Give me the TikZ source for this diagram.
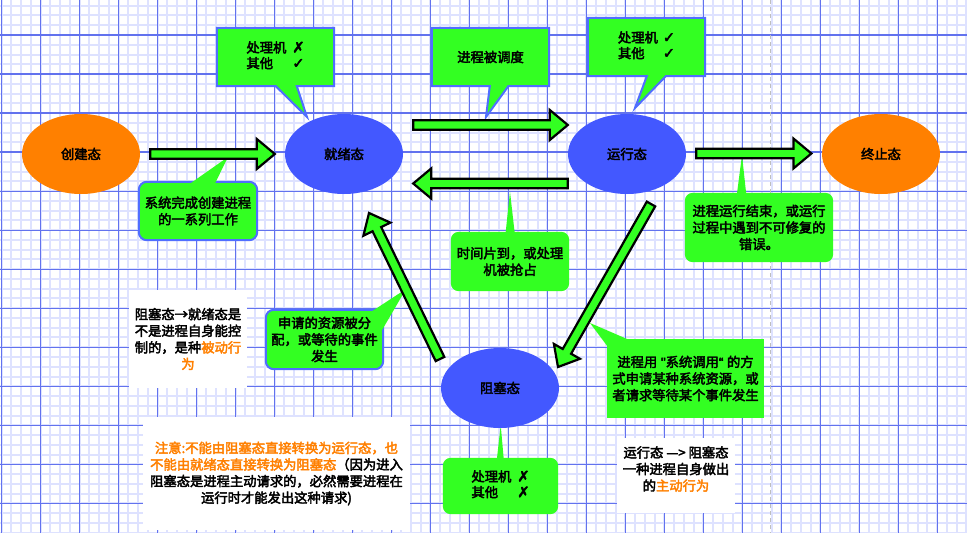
\documentclass[tikz,border=0pt]{standalone}
\usepackage{fontspec}
\setmainfont{Noto Sans CJK SC}[FakeBold=3]
\newfontfamily\symfont{DejaVu Sans}[FakeBold=3]
\newfontfamily\latinfont{Liberation Sans}[FakeBold=3]
\usetikzlibrary{calc,shapes.geometric}
\pgfdeclarelayer{gridlayer}
\pgfdeclarelayer{shapelayer}
\pgfsetlayers{gridlayer,shapelayer,main}
\definecolor{cgreen}{RGB}{51,255,34}
\definecolor{cblue}{RGB}{67,88,255}
\definecolor{corange}{RGB}{255,128,0}
\definecolor{cborder}{RGB}{80,110,255}
\definecolor{gmajor}{RGB}{98,114,238}
\definecolor{gminor}{RGB}{222,226,255}
\definecolor{dashgrey}{RGB}{190,190,190}
\newcommand\mycheck{{\symfont\fontsize{14.5}{16}\selectfont ✓}}
\newcommand\mycross{{\symfont\fontsize{14.5}{16}\selectfont ✗}}
\newcommand\myblockarrow[2]{%
  \coordinate (bab) at ($(#2)!18pt!(#1)$);
  \draw[barrow] ($(#1)!4.8pt!90:(#2)$) -- ($(bab)!4.8pt!90:(#2)$) -- ($(bab)!15pt!90:(#2)$) -- (#2)
     -- ($(bab)!15pt!-90:(#2)$) -- ($(bab)!4.8pt!-90:(#2)$) -- ($(#1)!4.8pt!-90:(#2)$) -- cycle;}
\begin{document}
\begin{tikzpicture}[x=1pt,y=-1pt,
  minorline/.style={draw=gminor,line width=2pt},
  majorline/.style={draw=gmajor,line width=1.2pt},
  dashline/.style={draw=dashgrey,line width=1.5pt,dash pattern=on 4pt off 3pt},
  state/.style={ellipse,minimum width=118pt,minimum height=80pt,inner sep=0pt,
     font=\fontsize{13.3}{16.6}\selectfont},
  txt/.style={align=center,inner sep=0pt,font=\fontsize{13.3}{16.6}\selectfont},
  cshape/.style={fill=cgreen},
  cbshape/.style={fill=cgreen,draw=cborder,line width=2pt},
  barrow/.style={fill=cgreen,draw=black,line width=2.2pt,line join=miter},
  wbox/.style={fill=white,inner sep=0pt}]
\useasboundingbox (0,0) rectangle (967,533);
% ---------- grid ----------
\begin{pgfonlayer}{gridlayer}
\fill[white] (0,0) rectangle (967,533);
\begin{scope}
\clip (0,0) rectangle (967,533);
\foreach \i in {0,...,99} \draw[minorline] ({1.7+9.745*\i},0) -- ({1.7+9.745*\i},533);
\foreach \j in {0,...,55} \draw[minorline] (0,{-4.03+9.7575*\j}) -- (967,{-4.03+9.7575*\j});
\foreach \i in {0,...,24} \draw[majorline] ({1.7+38.98*\i},0) -- ({1.7+38.98*\i},533);
\foreach \j in {1,...,13} \draw[majorline] (0,{-4.03+39.03*\j}) -- (967,{-4.03+39.03*\j});
\end{scope}
\coordinate (dtop) at (770.7,0);
\coordinate (dbot) at (770.7,533);
\draw[dashline] (dtop) -- (dbot);
\end{pgfonlayer}
% ---------- states ----------
\node[state,fill=corange] (create) at (81,154) {创建态};
\node[state,fill=cblue] (ready) at (344,154) {就绪态};
\node[state,fill=cblue] (run) at (627,154) {运行态};
\node[state,fill=corange] (term) at (881,154) {终止态};
\node[state,fill=cblue] (block) at (500,388) {阻塞态};
% ---------- callouts ----------
\node[txt,minimum width=117pt,minimum height=58pt] (cA) at (275.5,57)
  {\def\arraystretch{0.92}\begin{tabular}{@{}l@{\hspace{6pt}}l@{}}处理机&\mycross\\其他&\mycheck\end{tabular}};
\node[txt,minimum width=117pt,minimum height=58pt] (cC) at (490.5,57) {进程被调度};
\node[txt,minimum width=117pt,minimum height=58pt] (cD) at (646.5,47)
  {\def\arraystretch{0.92}\begin{tabular}{@{}l@{\hspace{5pt}}l@{}}处理机&\mycheck\\其他&\mycheck\end{tabular}};
\node[txt,minimum width=118pt,minimum height=58pt] (cB) at (198,211) {系统完成创建进程\\的一系列工作};
\node[txt,minimum width=118pt,minimum height=59pt] (cE) at (510,261.5) {时间片到，或处理\\机被抢占};
\node[txt,minimum width=148pt,minimum height=69pt] (cF) at (759,227.5) {进程运行结束，或运行\\过程中遇到不可修复的\\错误。};
\node[txt,minimum width=117pt,minimum height=59pt] (cG) at (324.5,339.5) {申请的资源被分\\配，或等待的事件\\发生};
\node[txt,minimum width=157pt,minimum height=79pt] (cH) at (685.5,378.5) {进程用{\latinfont\ "}系统调用{\latinfont “\ }的方\\式申请某种系统资源，或\\者请求等待某个事件发生};
\node[txt,minimum width=115pt,minimum height=56pt] (cI) at (500.5,486)
  {\def\arraystretch{0.92}\begin{tabular}{@{}l@{\hspace{6pt}}l@{}}处理机&\mycross\\其他&\mycross\end{tabular}};
\coordinate (tA) at (307,117);
\coordinate (tC) at (486,117);
\coordinate (tD) at (635,108);
\coordinate (tB) at (228,157);
\coordinate (tE) at (510,191.7);
\coordinate (tF) at (742,155);
\coordinate (tG) at (406,289);
\coordinate (tH) at (590,323);
\coordinate (tI) at (500.7,425);
\begin{pgfonlayer}{shapelayer}
\draw[cbshape] (cA.north west) -- (cA.north east) -- (cA.south east) -- ($(cA.south west)+(80,0)$)
   -- (tA) -- ($(cA.south west)+(59,0)$) -- (cA.south west) -- cycle;
\draw[cbshape] (cC.north west) -- (cC.north east) -- (cC.south east) -- ($(cC.south west)+(76.5,0)$)
   -- (tC) -- ($(cC.south west)+(58,0)$) -- (cC.south west) -- cycle;
\draw[cbshape] (cD.north west) -- (cD.north east) -- (cD.south east) -- ($(cD.south west)+(78,0)$)
   -- (tD) -- ($(cD.south west)+(59,0)$) -- (cD.south west) -- cycle;
\draw[cbshape,rounded corners=8pt] (cB.north west) rectangle (cB.south east);
\fill[cgreen] ($(cB.north west)+(51,2)$) -- (tB) -- ($(cB.north west)+(76,2)$) -- cycle;
\fill[cshape,rounded corners=8pt] (cE.north west) rectangle (cE.south east);
\fill[cgreen] ($(cE.north west)+(54.7,2)$) -- (tE) -- ($(cE.north west)+(64,2)$) -- cycle;
\fill[cshape,rounded corners=8pt] (cF.north west) rectangle (cF.south east);
\fill[cgreen] ($(cF.north west)+(52,2)$) -- (tF) -- ($(cF.north west)+(61.5,2)$) -- cycle;
\draw[cbshape,rounded corners=8pt] (cG.north west) rectangle (cG.south east);
\fill[cgreen] ($(cG.north east)+(-12,2)$) -- (tG) -- ($(cG.north east)+(-1,20)$) -- cycle;
\fill[cshape] (cH.north west) rectangle (cH.south east);
\fill[cgreen] ($(cH.north west)+(1,8)$) -- (tH) -- ($(cH.north west)+(21,0.5)$) -- cycle;
\fill[cshape,rounded corners=8pt] (cI.north west) rectangle (cI.south east);
\fill[cgreen] ($(cI.north west)+(54,2)$) -- (tI) -- ($(cI.north west)+(61,2)$) -- cycle;
\end{pgfonlayer}
% ---------- block arrows ----------
\coordinate (a1s) at ($(create.east)+(10,0)$);
\coordinate (a1e) at ($(ready.west)+(-10,0)$);
\coordinate (a2s) at ($(ready.east)+(10,-29)$);
\coordinate (a2e) at ($(run.west)+(0,-29)$);
\coordinate (a3s) at ($(run.west)+(0,29.5)$);
\coordinate (a3e) at ($(ready.east)+(10,29.5)$);
\coordinate (a4s) at ($(run.east)+(10,-0.5)$);
\coordinate (a4e) at ($(term.west)+(-10.4,-0.5)$);
\coordinate (a5s) at (651,204);
\coordinate (a5e) at (558,367);
\coordinate (a6s) at (440,359);
\coordinate (a6e) at (369,213);
\myblockarrow{a1s}{a1e}
\myblockarrow{a2s}{a2e}
\myblockarrow{a3s}{a3e}
\myblockarrow{a4s}{a4e}
\myblockarrow{a5s}{a5e}
\myblockarrow{a6s}{a6e}
% ---------- white notes ----------
\node[wbox,minimum width=118pt,minimum height=98pt] (wJ) at (188,339) {};
\node[txt] (tJ) at (188,339) {阻塞态→就绪态是\\不是进程自身能控\\制的，是种\textcolor{corange}{被动行}\\\textcolor{corange}{为}};
\node[wbox,minimum width=267pt,minimum height=113pt] (wK) at (276.5,473.5) {};
\node[txt] (tK) at (276.5,473.5) {\textcolor{corange}{注意:不能由阻塞态直接转换为运行态，也}\\\textcolor{corange}{不能由就绪态直接转换为阻塞态}（因为进入\\阻塞态是进程主动请求的，必然需要进程在\\运行时才能发出这种请求)};
\node[wbox,minimum width=118pt,minimum height=75pt] (wL) at (676,475.5) {};
\node[txt] (tL) at (676,469) {运行态 —> 阻塞态\\一种进程自身做出\\的\textcolor{corange}{主动行为}};
\end{tikzpicture}
\end{document}
